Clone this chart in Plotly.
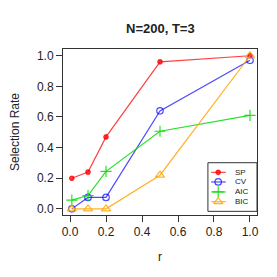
import plotly.graph_objects as go

r_vals = [0.01, 0.1, 0.2, 0.5, 1.0]
sp = [0.20, 0.24, 0.47, 0.96, 1.00]
cv = [0.00, 0.075, 0.075, 0.64, 0.97]
aic = [0.057, 0.087, 0.245, 0.507, 0.61]
bic = [0.00, 0.00, 0.00, 0.22, 1.00]
names = ["SP", "CV", "AIC", "BIC"]

styles = [
    ("rgba(255,0,0,0.75)", "circle", 4.5),
    ("rgba(0,0,255,0.7)", "circle-open", 6.5),
    ("rgba(0,220,0,0.85)", "cross-thin-open", 8),
    ("rgba(255,165,0,0.85)", "triangle-up-open", 8),
]

fig = go.Figure()
for name, vals, (col, sym, sz) in zip(names, [sp, cv, aic, bic], styles):
    fig.add_trace(go.Scatter(
        x=r_vals, y=vals, name=name, mode="lines+markers", showlegend=False,
        line=dict(color=col, width=1.2),
        marker=dict(symbol=sym, size=sz, color=col, line=dict(color=col, width=1.2)),
    ))

# manual legend on an overlay axis (0..1 over the plot area)
leg_rows = [0.257, 0.199, 0.139, 0.080]
for name, yy, (col, sym, sz) in zip(names, leg_rows, styles):
    fig.add_trace(go.Scatter(
        x=[0.764, 0.839], y=[yy, yy], mode="lines", xaxis="x2", yaxis="y2",
        line=dict(color=col, width=1.2), showlegend=False, hoverinfo="skip"))
    fig.add_trace(go.Scatter(
        x=[0.80], y=[yy], mode="markers", xaxis="x2", yaxis="y2",
        marker=dict(symbol=sym, size=sz, color=col, line=dict(color=col, width=1.2)),
        showlegend=False, hoverinfo="skip"))
    fig.add_annotation(x=0.874, y=yy, xref="x2", yref="y2", text=name, showarrow=False,
                       xanchor="left", yanchor="middle", font=dict(size=8, color="#222"))
fig.add_shape(type="rect", xref="x2", yref="y2", x0=0.747, x1=1.0, y0=0.022, y1=0.315,
              line=dict(color="#333", width=1), fillcolor="rgba(0,0,0,0)")

axis_common = dict(
    showline=True, linecolor="#333", linewidth=1, mirror=True, automargin=False,
    ticks="outside", ticklen=6, tickcolor="#333", showgrid=False, zeroline=False,
    tickfont=dict(size=12, color="#222"),
)
ticks = [0, 0.2, 0.4, 0.6, 0.8, 1.0]
labels = ["0.0", "0.2", "0.4", "0.6", "0.8", "1.0"]
fig.update_xaxes(range=[-0.039, 1.039], tickvals=ticks, ticktext=labels,
                 title=dict(text="r", font=dict(size=12, color="#222"), standoff=14), **axis_common)
fig.update_yaxes(range=[-0.04, 1.044], tickvals=ticks, ticktext=labels,
                 title=dict(text="Selection Rate", font=dict(size=12, color="#222"), standoff=19), **axis_common)

fig.update_layout(
    width=277, height=277,
    margin=dict(l=55, r=28, t=41, b=70, autoexpand=False),
    paper_bgcolor="white", plot_bgcolor="white",
    font=dict(family="Liberation Sans, Arial, sans-serif", color="#222"),
    title=dict(text="<b>N=200, T=3</b>", x=0.55, xanchor="center", y=0.925, yanchor="middle",
               font=dict(size=13, color="#222")),
    xaxis2=dict(overlaying="x", range=[0, 1], visible=False, fixedrange=True),
    yaxis2=dict(overlaying="y", range=[0, 1], visible=False, fixedrange=True),
    showlegend=False,
)

fig.write_html("out.html")
